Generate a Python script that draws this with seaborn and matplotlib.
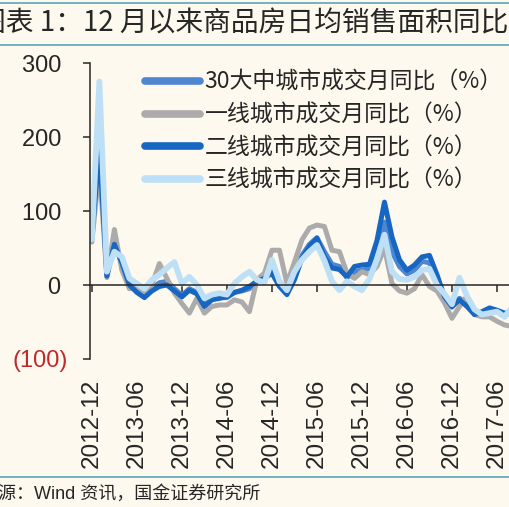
import numpy as np
import pandas as pd
import matplotlib
matplotlib.use('Agg')
import matplotlib.pyplot as plt
from matplotlib.lines import Line2D
import seaborn as sns

# monthly YoY (%), 2012-12 onwards
month_idx = np.arange(57)
tick_pos = [0, 6, 12, 18, 24, 30, 36, 42, 48, 54]
tick_labels = ['2012-12', '2013-06', '2013-12', '2014-06', '2014-12',
               '2015-06', '2015-12', '2016-06', '2016-12', '2017-06']

city30 = [63, 200, 14, 60, 28, 2, -6, -14, -5, 3, 5, -5, -14, -5, -10, -25, -18, -17, -17, -10,
          -8, -5, 6, 10, 22, 5, -8, 10, 40, 55, 64, 45, 28, 25, 10, 18, 20, 22, 45, 85,
          45, 25, 15, 20, 32, 30, 8, -15, -30, -18, -25, -38, -38, -34, -36, -40, -38]
tier1 = [58, 160, 10, 75, 20, -5, -3, -14, 0, 29, 9, -11, -25, -38, -18, -38, -29, -27, -27, -20,
         -23, -36, 7, 16, 47, 47, 2, 31, 61, 77, 81, 79, 47, 45, 16, 9, 18, 14, 25, 50,
         2, -8, -11, -5, 14, -2, -8, -24, -45, -29, -15, -40, -43, -43, -49, -54, -56]
tier2 = [65, 185, 12, 55, 30, 0, -10, -17, -8, -2, 0, -8, -16, -7, -12, -29, -20, -18, -16, -10,
         -7, -2, 5, 9, 16, -2, -13, 7, 36, 52, 63, 38, 23, 21, 11, 25, 27, 28, 60, 112,
         65, 34, 20, 27, 38, 40, 14, -16, -29, -20, -29, -40, -36, -31, -34, -38, -36]
tier3 = [62, 275, 18, 45, 38, 9, 2, -5, 7, 14, 23, 31, 2, 11, 0, -18, -13, -11, -13, 2,
         11, 18, 7, 3, 34, 5, -7, 18, 34, 45, 54, 33, 5, -7, 5, -2, -7, 8, 35, 68,
         18, 8, 7, 11, 20, 22, 0, -12, -26, 10, -15, -33, -40, -38, -36, -43, -30]

names = ['30大中城市成交月同比（%）', '一线城市成交月同比（%）',
         '二线城市成交月同比（%）', '三线城市成交月同比（%）']
colors = ['#4F86D2', '#ABABAB', '#1766C2', '#BEE0F6']

y_ticks = [-100, 0, 100, 200, 300]
y_labels = ['(100)', '0 ', '100 ', '200 ', '300 ']

df = pd.DataFrame({'m': month_idx, names[0]: city30, names[1]: tier1,
                   names[2]: tier2, names[3]: tier3})
long = df.melt(id_vars='m', var_name='series', value_name='v')

sns.set_style('ticks')
plt.rcParams['font.family'] = ['Liberation Sans', 'Noto Sans CJK SC', 'DejaVu Sans']
bg = '#FDF9EF'

fig = plt.figure(figsize=(5.09, 5.07), dpi=100, facecolor=bg)
W, H = 509, 507
ax = fig.add_axes([90 / W, (H - 359) / H, (527 - 90) / W, 296 / H])
ax.set_facecolor(bg)

sns.lineplot(data=long, x='m', y='v', hue='series', hue_order=names,
             palette=colors, linewidth=3.6, ax=ax)
ax.lines[3].set_linewidth(4.2)

ax.set_xlim(-0.25, 58)
ax.set_ylim(-100, 300)
ax.set_xlabel('')
ax.set_ylabel('')

for s in ['top', 'right']:
    ax.spines[s].set_visible(False)
ax.spines['bottom'].set_position(('data', 0))
ax.spines['left'].set_linewidth(1.1)
ax.spines['bottom'].set_linewidth(1.1)
ax.set_xticks(tick_pos)
ax.tick_params(axis='x', direction='out', length=5, width=1.1, labelbottom=False)

ax.set_yticks(y_ticks, labels=y_labels)
ax.tick_params(axis='y', direction='out', length=5, width=1.1, pad=11, labelsize=17)
ax.get_yticklabels()[0].set_color('#C0282D')

sec = ax.secondary_xaxis(0)
sec.set_xticks(tick_pos, labels=tick_labels, rotation=90)
sec.tick_params(length=0, pad=14, labelsize=17.5)
sec.spines['bottom'].set_visible(False)

handles, labels = ax.get_legend_handles_labels()
ax.get_legend().remove()
leg = fig.legend(handles, labels, loc='upper left', bbox_to_anchor=(145 / W, 1 - 71 / H),
                 frameon=False, prop={'family': ['Noto Sans CJK SC'], 'size': 16.5},
                 handlelength=2.4, handletextpad=0.2, labelspacing=0.42,
                 borderpad=0, borderaxespad=0)
for ln in leg.get_lines():
    ln.set_linewidth(5.5)

# title band and source
teal = '#5AA5BA'
for yy in [3, 45, 477]:
    fig.add_artist(Line2D([0, 1], [1 - yy / H, 1 - yy / H], transform=fig.transFigure,
                          color=teal, linewidth=1.2))
fig.text(-22 / W, 1 - 24 / H, '图表 1：12 月以来商品房日均销售面积同比',
         fontsize=20, family=['Noto Sans CJK SC'], va='center', ha='left')
fig.text(-20 / W, 1 - 494 / H, '来源：Wind 资讯，国金证券研究所',
         fontsize=13, family=['Liberation Sans', 'Noto Sans CJK SC'], va='center', ha='left')

fig.savefig('out.png', dpi=100, facecolor=bg)
